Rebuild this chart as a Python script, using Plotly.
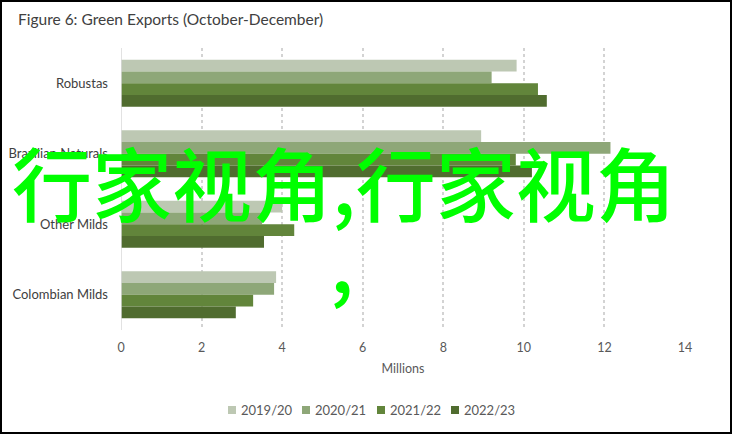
import plotly.graph_objects as go

categories = ["Robustas", "Brazilian Naturals", "Other Milds", "Colombian Milds"]
seasons = ["2019/20", "2020/21", "2021/22", "2022/23"]
exports_2019_20 = [9.82, 8.94, 4.0, 3.85]
exports_2020_21 = [9.2, 12.15, 3.5, 3.8]
exports_2021_22 = [10.35, 9.8, 4.3, 3.28]
exports_2022_23 = [10.57, 10.2, 3.55, 2.85]
x_ticks = [0, 2, 4, 6, 8, 10, 12, 14]

colors = ["#bdc8b3", "#8ea778", "#62853b", "#506c2f"]
series = [exports_2019_20, exports_2020_21, exports_2021_22, exports_2022_23]

W, H = 733, 435
ml, mr, mt, mb = 121, 48, 48, 105
pw, ph = W - ml - mr, H - mt - mb


def px(x):
    return (x - ml) / pw


def py(y):
    return (H - mb - y) / ph


fig = go.Figure()
for name, vals, col in zip(seasons, series, colors):
    fig.add_trace(go.Bar(y=categories, x=vals, name=name, orientation="h",
                         marker=dict(color=col, line=dict(width=0)), showlegend=False))

fig.update_layout(
    width=W, height=H,
    margin=dict(l=ml, r=mr, t=mt, b=mb),
    paper_bgcolor="white", plot_bgcolor="white",
    barmode="group", bargap=0.33, bargroupgap=0,
    font=dict(family="Lato", size=12, color="#595959"),
    title=dict(text="Figure 6: Green Exports (October-December)",
               x=18 / W, y=1 - 20 / H, xref="container", yref="container",
               xanchor="left", yanchor="middle",
               font=dict(size=15.5, color="#404040")),
)

fig.update_xaxes(range=[0, 14], tickvals=x_ticks, showgrid=True, gridcolor="#d3d3d3",
                 griddash="dot", gridwidth=1.5, zeroline=False, showline=False,
                 ticks="", ticklabelstandoff=8, tickfont=dict(size=12.5, color="#595959"),
                 automargin=False,
                 title=dict(text="Millions", standoff=10, font=dict(size=12.5, color="#595959")))
fig.update_yaxes(autorange="reversed", showgrid=False, ticks="", ticklabelstandoff=12,
                 showline=False, automargin=False, tickfont=dict(size=13, color="#404040"))

# zero axis line
fig.add_shape(type="line", xref="x", yref="paper", x0=0, x1=0, y0=0, y1=1,
              line=dict(color="#d9d9d9", width=1.5))

# legend drawn by hand to keep the tight spacing
legend_x = [228, 302, 377, 451]
for lx, name, col in zip(legend_x, seasons, colors):
    fig.add_shape(type="rect", xref="paper", yref="paper",
                  x0=px(lx), x1=px(lx + 8), y0=py(414), y1=py(406),
                  line=dict(width=0), fillcolor=col)
    fig.add_annotation(text=name, xref="paper", yref="paper", x=px(lx + 11), y=py(410),
                       xanchor="left", yanchor="middle", showarrow=False,
                       font=dict(size=13, color="#595959"))

# outer frame
fig.add_shape(type="rect", xref="paper", yref="paper",
              x0=px(1), x1=px(731), y0=py(433), y1=py(1),
              line=dict(color="black", width=2), fillcolor="rgba(0,0,0,0)")

# overlay text
fig.add_annotation(text="行家视角,行家视角", xref="paper", yref="paper",
                   x=px(344), y=py(180), xanchor="center", yanchor="middle", showarrow=False,
                   font=dict(family="Noto Sans CJK SC", size=80, color="#00ff00", weight=500))
fig.add_annotation(text=",", xref="paper", yref="paper",
                   x=px(342), y=py(258), xanchor="center", yanchor="middle", showarrow=False,
                   font=dict(family="Noto Sans CJK SC", size=80, color="#00ff00", weight=500))

fig.write_html("out.html", post_script="document.body.style.margin='0';",
               config={"displayModeBar": False})
